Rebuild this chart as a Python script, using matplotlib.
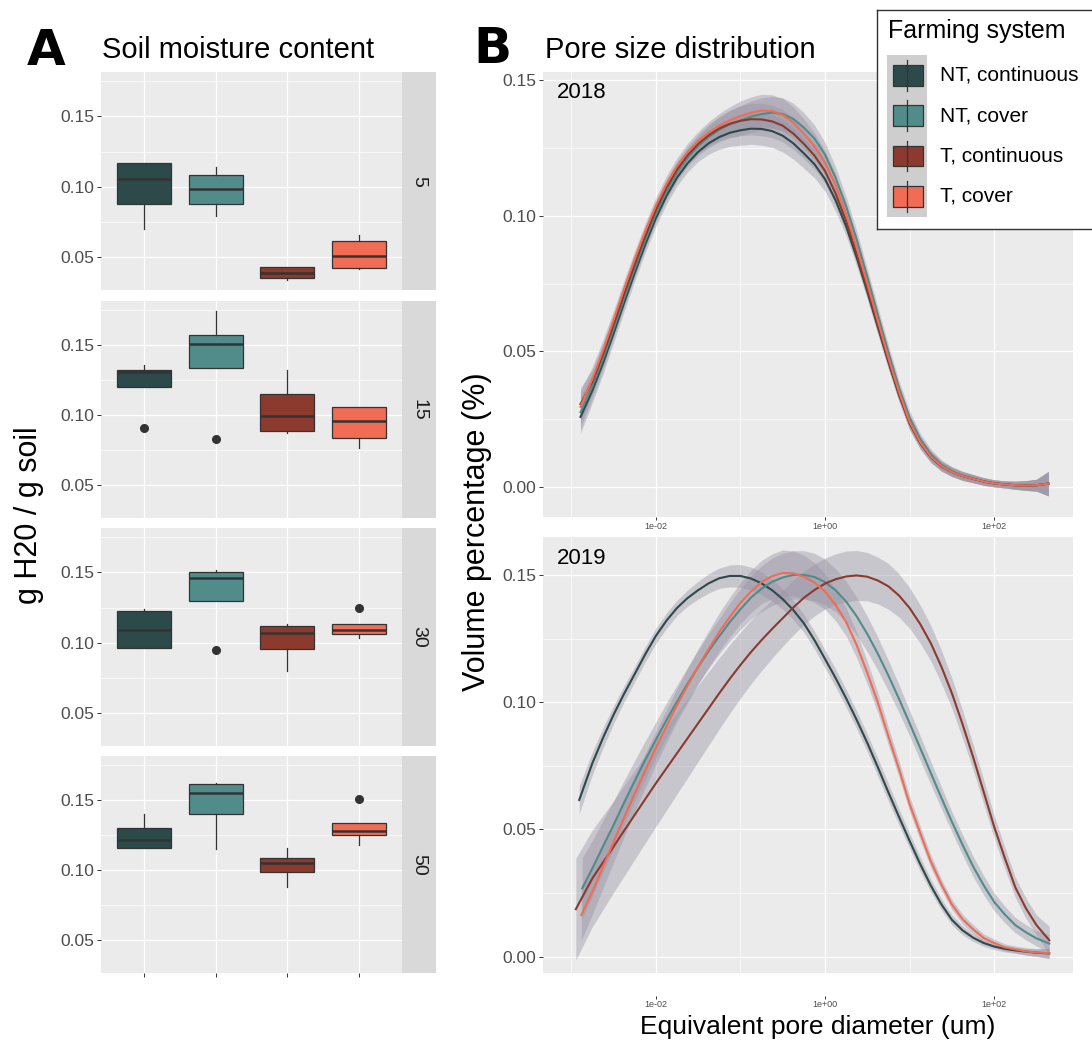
import numpy as np
import matplotlib
matplotlib.use('Agg')
import matplotlib.pyplot as plt
from matplotlib.patches import Rectangle
from matplotlib.lines import Line2D

plt.rcParams['font.family'] = ['Liberation Sans', 'DejaVu Sans']

## Data: soil moisture boxplots
depths = ['5', '15', '30', '50']
systems = ['NT, continuous', 'NT, cover', 'T, continuous', 'T, cover']
colors = ['#2D4A4A', '#518C8A', '#8B3A2D', '#F06C55']

q1 = [[0.0876, 0.0879, 0.0345, 0.0417],
      [0.1202, 0.1335, 0.0888, 0.0836],
      [0.0964, 0.1298, 0.0955, 0.1064],
      [0.1156, 0.1400, 0.0988, 0.1250]]
med = [[0.1052, 0.0983, 0.0386, 0.0505],
       [0.1309, 0.1508, 0.0995, 0.0955],
       [0.1093, 0.1457, 0.1067, 0.1093],
       [0.1215, 0.1547, 0.1050, 0.1278]]
q3 = [[0.1167, 0.1079, 0.0424, 0.0610],
      [0.1323, 0.1570, 0.1152, 0.1055],
      [0.1224, 0.1505, 0.1121, 0.1131],
      [0.1302, 0.1613, 0.1087, 0.1335]]
whislo = [[0.0695, 0.0790, 0.0333, 0.0410],
          [0.1202, 0.1335, 0.0869, 0.0765],
          [0.0964, 0.1298, 0.0795, 0.1029],
          [0.1156, 0.1151, 0.0882, 0.1177]]
whishi = [[0.1167, 0.1143, 0.0429, 0.0652],
          [0.1359, 0.1739, 0.1321, 0.1055],
          [0.1240, 0.1514, 0.1133, 0.1131],
          [0.1400, 0.1625, 0.1158, 0.1335]]
fliers = [[[], [], [], []],
          [[0.0903], [0.0827], [], []],
          [[], [0.0950], [], [0.1243]],
          [[], [], [], [0.1507]]]

## Data: pore size distribution smooths, x = log10(diameter, um)
years = ['2018', '2019']
grid = [-2.75, -2.625, -2.5, -2.375, -2.25, -2.125, -2.0, -1.875, -1.75, -1.625, -1.5,
        -1.375, -1.25, -1.125, -1.0, -0.875, -0.75, -0.625, -0.5, -0.375, -0.25, -0.125,
        0.0, 0.125, 0.25, 0.375, 0.5, 0.625, 0.75, 0.875, 1.0, 1.125, 1.25, 1.375, 1.5,
        1.625, 1.75, 1.875, 2.0, 2.125, 2.25, 2.375, 2.5]
start_2018 = [-2.89, -2.89, -2.89, -2.89]
end_2018 = 2.64
start_2019 = [-2.905, -2.87, -2.945, -2.88]
end_2019 = 2.65

vol_2018 = [
    [0.0258, 0.0355, 0.0455, 0.0565, 0.0678, 0.0788, 0.0893, 0.0990, 0.1072, 0.1140, 0.1193,
     0.1235, 0.1267, 0.1290, 0.1306, 0.1315, 0.1321, 0.1320, 0.1312, 0.1295, 0.1267, 0.1230,
     0.1190, 0.1135, 0.1057, 0.0960, 0.0845, 0.0720, 0.0589, 0.0460, 0.0339, 0.0235, 0.0162,
     0.0110, 0.0076, 0.0055, 0.0040, 0.0030, 0.0020, 0.0013, 0.0009, 0.0006, 0.0005, 0.0006,
     0.0012],
    [0.0275, 0.0371, 0.0471, 0.0581, 0.0694, 0.0804, 0.0909, 0.1006, 0.1089, 0.1158, 0.1213,
     0.1257, 0.1291, 0.1317, 0.1337, 0.1351, 0.1365, 0.1375, 0.1380, 0.1375, 0.1357, 0.1325,
     0.1285, 0.1225, 0.1140, 0.1035, 0.0912, 0.0775, 0.0634, 0.0495, 0.0365, 0.0255, 0.0176,
     0.0120, 0.0082, 0.0058, 0.0042, 0.0031, 0.0020, 0.0013, 0.0009, 0.0006, 0.0005, 0.0006,
     0.0012],
    [0.0305, 0.0388, 0.0488, 0.0597, 0.0710, 0.0820, 0.0924, 0.1020, 0.1102, 0.1170, 0.1223,
     0.1265, 0.1297, 0.1322, 0.1339, 0.1350, 0.1356, 0.1355, 0.1348, 0.1332, 0.1303, 0.1265,
     0.1222, 0.1165, 0.1082, 0.0980, 0.0860, 0.0730, 0.0597, 0.0465, 0.0342, 0.0235, 0.0162,
     0.0110, 0.0076, 0.0055, 0.0040, 0.0030, 0.0020, 0.0013, 0.0009, 0.0006, 0.0005, 0.0006,
     0.0012],
    [0.0295, 0.0398, 0.0502, 0.0615, 0.0730, 0.0840, 0.0943, 0.1037, 0.1117, 0.1183, 0.1235,
     0.1275, 0.1307, 0.1332, 0.1352, 0.1368, 0.1380, 0.1388, 0.1386, 0.1372, 0.1343, 0.1302,
     0.1256, 0.1195, 0.1113, 0.1005, 0.0882, 0.0750, 0.0612, 0.0475, 0.0350, 0.0240, 0.0165,
     0.0112, 0.0077, 0.0055, 0.0040, 0.0030, 0.0020, 0.0013, 0.0009, 0.0006, 0.0005, 0.0006,
     0.0012],
]
se_2018 = [0.006, 0.0045, 0.004, 0.0035, 0.0032, 0.003, 0.003, 0.003, 0.003, 0.003, 0.0032,
           0.0035, 0.004, 0.0045, 0.005, 0.0055, 0.0058, 0.006, 0.006, 0.006, 0.0058, 0.0055,
           0.005, 0.0045, 0.004, 0.0035, 0.0032, 0.003, 0.0029, 0.0028, 0.0026, 0.0025, 0.0022,
           0.002, 0.0018, 0.0017, 0.0016, 0.0015, 0.0014, 0.0013, 0.0013, 0.0015, 0.0018, 0.0022,
           0.0045]

vol_2019 = [
    [0.0616, 0.0760, 0.0859, 0.0950, 0.1033, 0.1110, 0.1188, 0.1260, 0.1320, 0.1370, 0.1409,
     0.1440, 0.1467, 0.1487, 0.1496, 0.1496, 0.1486, 0.1467, 0.1440, 0.1405, 0.1362, 0.1310,
     0.1244, 0.1170, 0.1095, 0.1015, 0.0930, 0.0840, 0.0744, 0.0645, 0.0549, 0.0455, 0.0364,
     0.0280, 0.0206, 0.0145, 0.0104, 0.0075, 0.0054, 0.0040, 0.0031, 0.0025, 0.0020, 0.0016,
     0.0013],
    [0.0269, 0.0347, 0.0433, 0.0517, 0.0605, 0.0690, 0.0773, 0.0852, 0.0929, 0.1002, 0.1072,
     0.1138, 0.1201, 0.1259, 0.1315, 0.1365, 0.1411, 0.1446, 0.1473, 0.1490, 0.1500, 0.1500,
     0.1492, 0.1472, 0.1440, 0.1395, 0.1337, 0.1268, 0.1190, 0.1104, 0.1013, 0.0917, 0.0820,
     0.0722, 0.0625, 0.0530, 0.0440, 0.0355, 0.0281, 0.0215, 0.0166, 0.0124, 0.0096, 0.0072,
     0.0052],
    [0.0187, 0.0308, 0.0370, 0.0432, 0.0495, 0.0557, 0.0619, 0.0681, 0.0740, 0.0799, 0.0858,
     0.0917, 0.0976, 0.1035, 0.1092, 0.1146, 0.1197, 0.1244, 0.1288, 0.1330, 0.1372, 0.1410,
     0.1441, 0.1466, 0.1483, 0.1494, 0.1498, 0.1493, 0.1478, 0.1455, 0.1419, 0.1370, 0.1307,
     0.1232, 0.1140, 0.1035, 0.0914, 0.0785, 0.0648, 0.0510, 0.0388, 0.0272, 0.0190, 0.0124,
     0.0065],
    [0.0164, 0.0255, 0.0353, 0.0450, 0.0545, 0.0640, 0.0731, 0.0820, 0.0905, 0.0988, 0.1065,
     0.1140, 0.1209, 0.1276, 0.1335, 0.1390, 0.1435, 0.1472, 0.1495, 0.1508, 0.1506, 0.1493,
     0.1470, 0.1435, 0.1382, 0.1315, 0.1224, 0.1115, 0.0998, 0.0865, 0.0737, 0.0600, 0.0486,
     0.0375, 0.0284, 0.0205, 0.0148, 0.0108, 0.0074, 0.0054, 0.0037, 0.0029, 0.0021, 0.0017,
     0.0014],
]
se_2019 = [
    [0.0055, 0.0045, 0.004, 0.0035, 0.0032, 0.003, 0.003, 0.003, 0.003, 0.003, 0.0032,
     0.0035, 0.0038, 0.004, 0.0043, 0.0045, 0.0045, 0.0045, 0.0043, 0.004, 0.0038, 0.0035,
     0.0035, 0.0035, 0.0035, 0.0035, 0.0035, 0.0035, 0.0035, 0.0035, 0.0032, 0.003, 0.0028,
     0.0025, 0.0022, 0.002, 0.0018, 0.0015, 0.0013, 0.0012, 0.0012, 0.0012, 0.0013, 0.0015,
     0.002],
    [0.012, 0.011, 0.0102, 0.0095, 0.0088, 0.008, 0.0075, 0.007, 0.0068, 0.0065, 0.0065,
     0.0065, 0.0068, 0.007, 0.0075, 0.008, 0.0085, 0.009, 0.0093, 0.0095, 0.0095, 0.0095,
     0.0093, 0.009, 0.0085, 0.008, 0.0075, 0.007, 0.0065, 0.006, 0.0055, 0.005, 0.0048,
     0.0045, 0.0043, 0.004, 0.004, 0.004, 0.0038, 0.0035, 0.0033, 0.003, 0.003, 0.003,
     0.0035],
    [0.020, 0.019, 0.0185, 0.018, 0.0178, 0.0175, 0.0172, 0.017, 0.0165, 0.016, 0.0155,
     0.015, 0.0145, 0.014, 0.0135, 0.013, 0.0125, 0.012, 0.0115, 0.011, 0.0108, 0.0105,
     0.0102, 0.010, 0.010, 0.010, 0.0098, 0.0095, 0.0092, 0.009, 0.0085, 0.008, 0.0075,
     0.007, 0.0065, 0.006, 0.0055, 0.005, 0.0048, 0.0045, 0.0042, 0.004, 0.004, 0.004,
     0.0055],
    [0.010, 0.009, 0.0085, 0.008, 0.0075, 0.007, 0.0068, 0.0065, 0.0065, 0.0065, 0.0068,
     0.007, 0.0072, 0.0075, 0.0078, 0.008, 0.0083, 0.0085, 0.0088, 0.009, 0.0088, 0.0085,
     0.0078, 0.007, 0.0062, 0.0055, 0.005, 0.0045, 0.004, 0.0035, 0.0032, 0.003, 0.0028,
     0.0025, 0.0022, 0.002, 0.0019, 0.0018, 0.0016, 0.0015, 0.0014, 0.0013, 0.0014, 0.0015,
     0.002],
]

## Figure, laid out in pixels
W, H = 1092, 1044
fig = plt.figure(figsize=(W / 100, H / 100), dpi=100)


def px_axes(x0, y0, x1, y1):
    return fig.add_axes([x0 / W, 1 - y1 / H, (x1 - x0) / W, (y1 - y0) / H])


def gg_panel(ax):
    ax.set_facecolor('#EBEBEB')
    for s in ax.spines.values():
        s.set_visible(False)
    ax.grid(which='major', color='white', lw=0.9)
    ax.grid(which='minor', color='white', lw=0.45)
    ax.set_axisbelow(True)
    ax.tick_params(which='major', length=2.75, width=0.7, color='#333333',
                   labelcolor='#4D4D4D', labelsize=12.5, pad=2)
    ax.tick_params(which='minor', length=0)


## Panel A
tops = [72.3, 300.7, 528.3, 756.0]
bots = [290.0, 518.3, 746.0, 973.3]
for i, d in enumerate(depths):
    ax = px_axes(101, tops[i], 402, bots[i])
    gg_panel(ax)
    stats = [dict(whislo=whislo[i][j], q1=q1[i][j], med=med[i][j], q3=q3[i][j],
                  whishi=whishi[i][j], fliers=fliers[i][j]) for j in range(4)]
    bp = ax.bxp(stats, positions=[1, 2, 3, 4], widths=0.75, patch_artist=True,
                showcaps=False,
                boxprops=dict(edgecolor='#333333', linewidth=0.9),
                medianprops=dict(color='#333333', linewidth=1.8),
                whiskerprops=dict(color='#333333', linewidth=0.9),
                flierprops=dict(marker='o', markerfacecolor='#333333',
                                markeredgecolor='#333333', markersize=5.5))
    for patch, c in zip(bp['boxes'], colors):
        patch.set_facecolor(c)
    ax.set_xlim(0.4, 4.6)
    ax.set_ylim(0.0262, 0.1815)
    ax.set_yticks([0.05, 0.10, 0.15])
    ax.set_yticklabels(['0.05', '0.10', '0.15'])
    ax.set_yticks([0.075, 0.125, 0.175], minor=True)
    ax.set_xticks([1, 2, 3, 4])
    ax.set_xticklabels([])
    if i < 3:
        ax.tick_params(axis='x', which='major', length=0)
    ax.yaxis.grid(which='minor', color='white', lw=0.45)

    strip = px_axes(402, tops[i], 435.7, bots[i])
    strip.set_facecolor('#D9D9D9')
    strip.set_xticks([])
    strip.set_yticks([])
    for s in strip.spines.values():
        s.set_visible(False)
    strip.text(0.5, 0.5, d, rotation=-90, ha='center', va='center',
               fontsize=14, color='#1A1A1A', transform=strip.transAxes)

## Panel B
rtops = [72.0, 537.0]
rbots = [516.7, 973.3]
ylims = [(-0.011, 0.153), (-0.0065, 0.1649)]
curves = [vol_2018, vol_2019]
for k, yr in enumerate(years):
    ax = px_axes(543, rtops[k], 1073, rbots[k])
    gg_panel(ax)
    ax.set_xscale('log')
    for j in range(4):
        if k == 0:
            logd = [start_2018[j]] + grid + [end_2018]
            half = np.array(se_2018)
        else:
            logd = [start_2019[j]] + grid + [end_2019]
            half = np.array(se_2019[j])
        x = 10.0 ** np.array(logd)
        y = np.array(curves[k][j])
        ax.fill_between(x, y - half, y + half, color='#9590a0', alpha=0.4, lw=0)
        ax.plot(x, y, color=colors[j], lw=1.5, solid_joinstyle='round')
    ax.set_xlim(10 ** -3.333, 10 ** 2.931)
    ax.set_ylim(*ylims[k])
    ax.set_xticks([1e-2, 1e0, 1e2])
    ax.set_xticklabels(['1e-02', '1e+00', '1e+02'])
    ax.set_xticks([1e-3, 1e-1, 1e1], minor=True)
    ax.set_xticklabels([], minor=True)
    ax.set_yticks([0.0, 0.05, 0.10, 0.15])
    ax.set_yticklabels(['0.00', '0.05', '0.10', '0.15'])
    ax.set_yticks([0.025, 0.075, 0.125], minor=True)
    ax.tick_params(axis='x', which='major', labelsize=6.5, pad=1, length=2.5)
    if k == 1:
        ax.spines['bottom'].set_position(('outward', 16))
    fig.text(557 / W, 1 - (rtops[k] + 21) / H, yr, fontsize=16, ha='left', va='center')

## Titles and axis labels
fig.text(27 / W, 1 - 65 / H, 'A', fontsize=36, fontweight='bold', ha='left', va='baseline',
         family=['Liberation Sans Narrow', 'DejaVu Sans'])
fig.text(102 / W, 1 - 58.3 / H, 'Soil moisture content', fontsize=21, ha='left', va='baseline')
fig.text(473 / W, 1 - 63 / H, 'B', fontsize=36, fontweight='bold', ha='left', va='baseline',
         family=['Liberation Sans Narrow', 'DejaVu Sans'])
fig.text(545 / W, 1 - 58.3 / H, 'Pore size distribution', fontsize=21, ha='left', va='baseline')
fig.text(29 / W, 1 - 515 / H, 'g H20 / g soil', fontsize=22, rotation=90, ha='center', va='center')
fig.text(477 / W, 1 - 532 / H, 'Volume percentage (%)', fontsize=22, rotation=90,
         ha='center', va='center')
fig.text(818 / W, 1 - 1027 / H, 'Equivalent pore diameter (um)', fontsize=19,
         ha='center', va='center')

## Legend
lax = px_axes(877.3, 10, 1100, 229.3)
lax.set_xlim(877.3, 1100)
lax.set_ylim(229.3, 10)
lax.set_facecolor('white')
lax.set_xticks([])
lax.set_yticks([])
for s in lax.spines.values():
    s.set_color('#333333')
    s.set_linewidth(1.0)
lax.text(888, 31, 'Farming system', fontsize=18, ha='left', va='center')
lax.add_patch(Rectangle((886.7, 55), 40.6, 161.7, facecolor='#CECECE', edgecolor='none'))
for j, name in enumerate(systems):
    cy = 55 + 40.4 * (j + 0.5)
    lax.add_line(Line2D([907, 907], [cy - 15.4, cy + 15.4], color='#333333', lw=0.9))
    lax.add_patch(Rectangle((892.7, cy - 10.4), 30.6, 20.8, facecolor=colors[j],
                            edgecolor='#333333', lw=0.9))
    lax.text(940, cy, name, fontsize=15, ha='left', va='center')

fig.savefig('out.png', dpi=100)
